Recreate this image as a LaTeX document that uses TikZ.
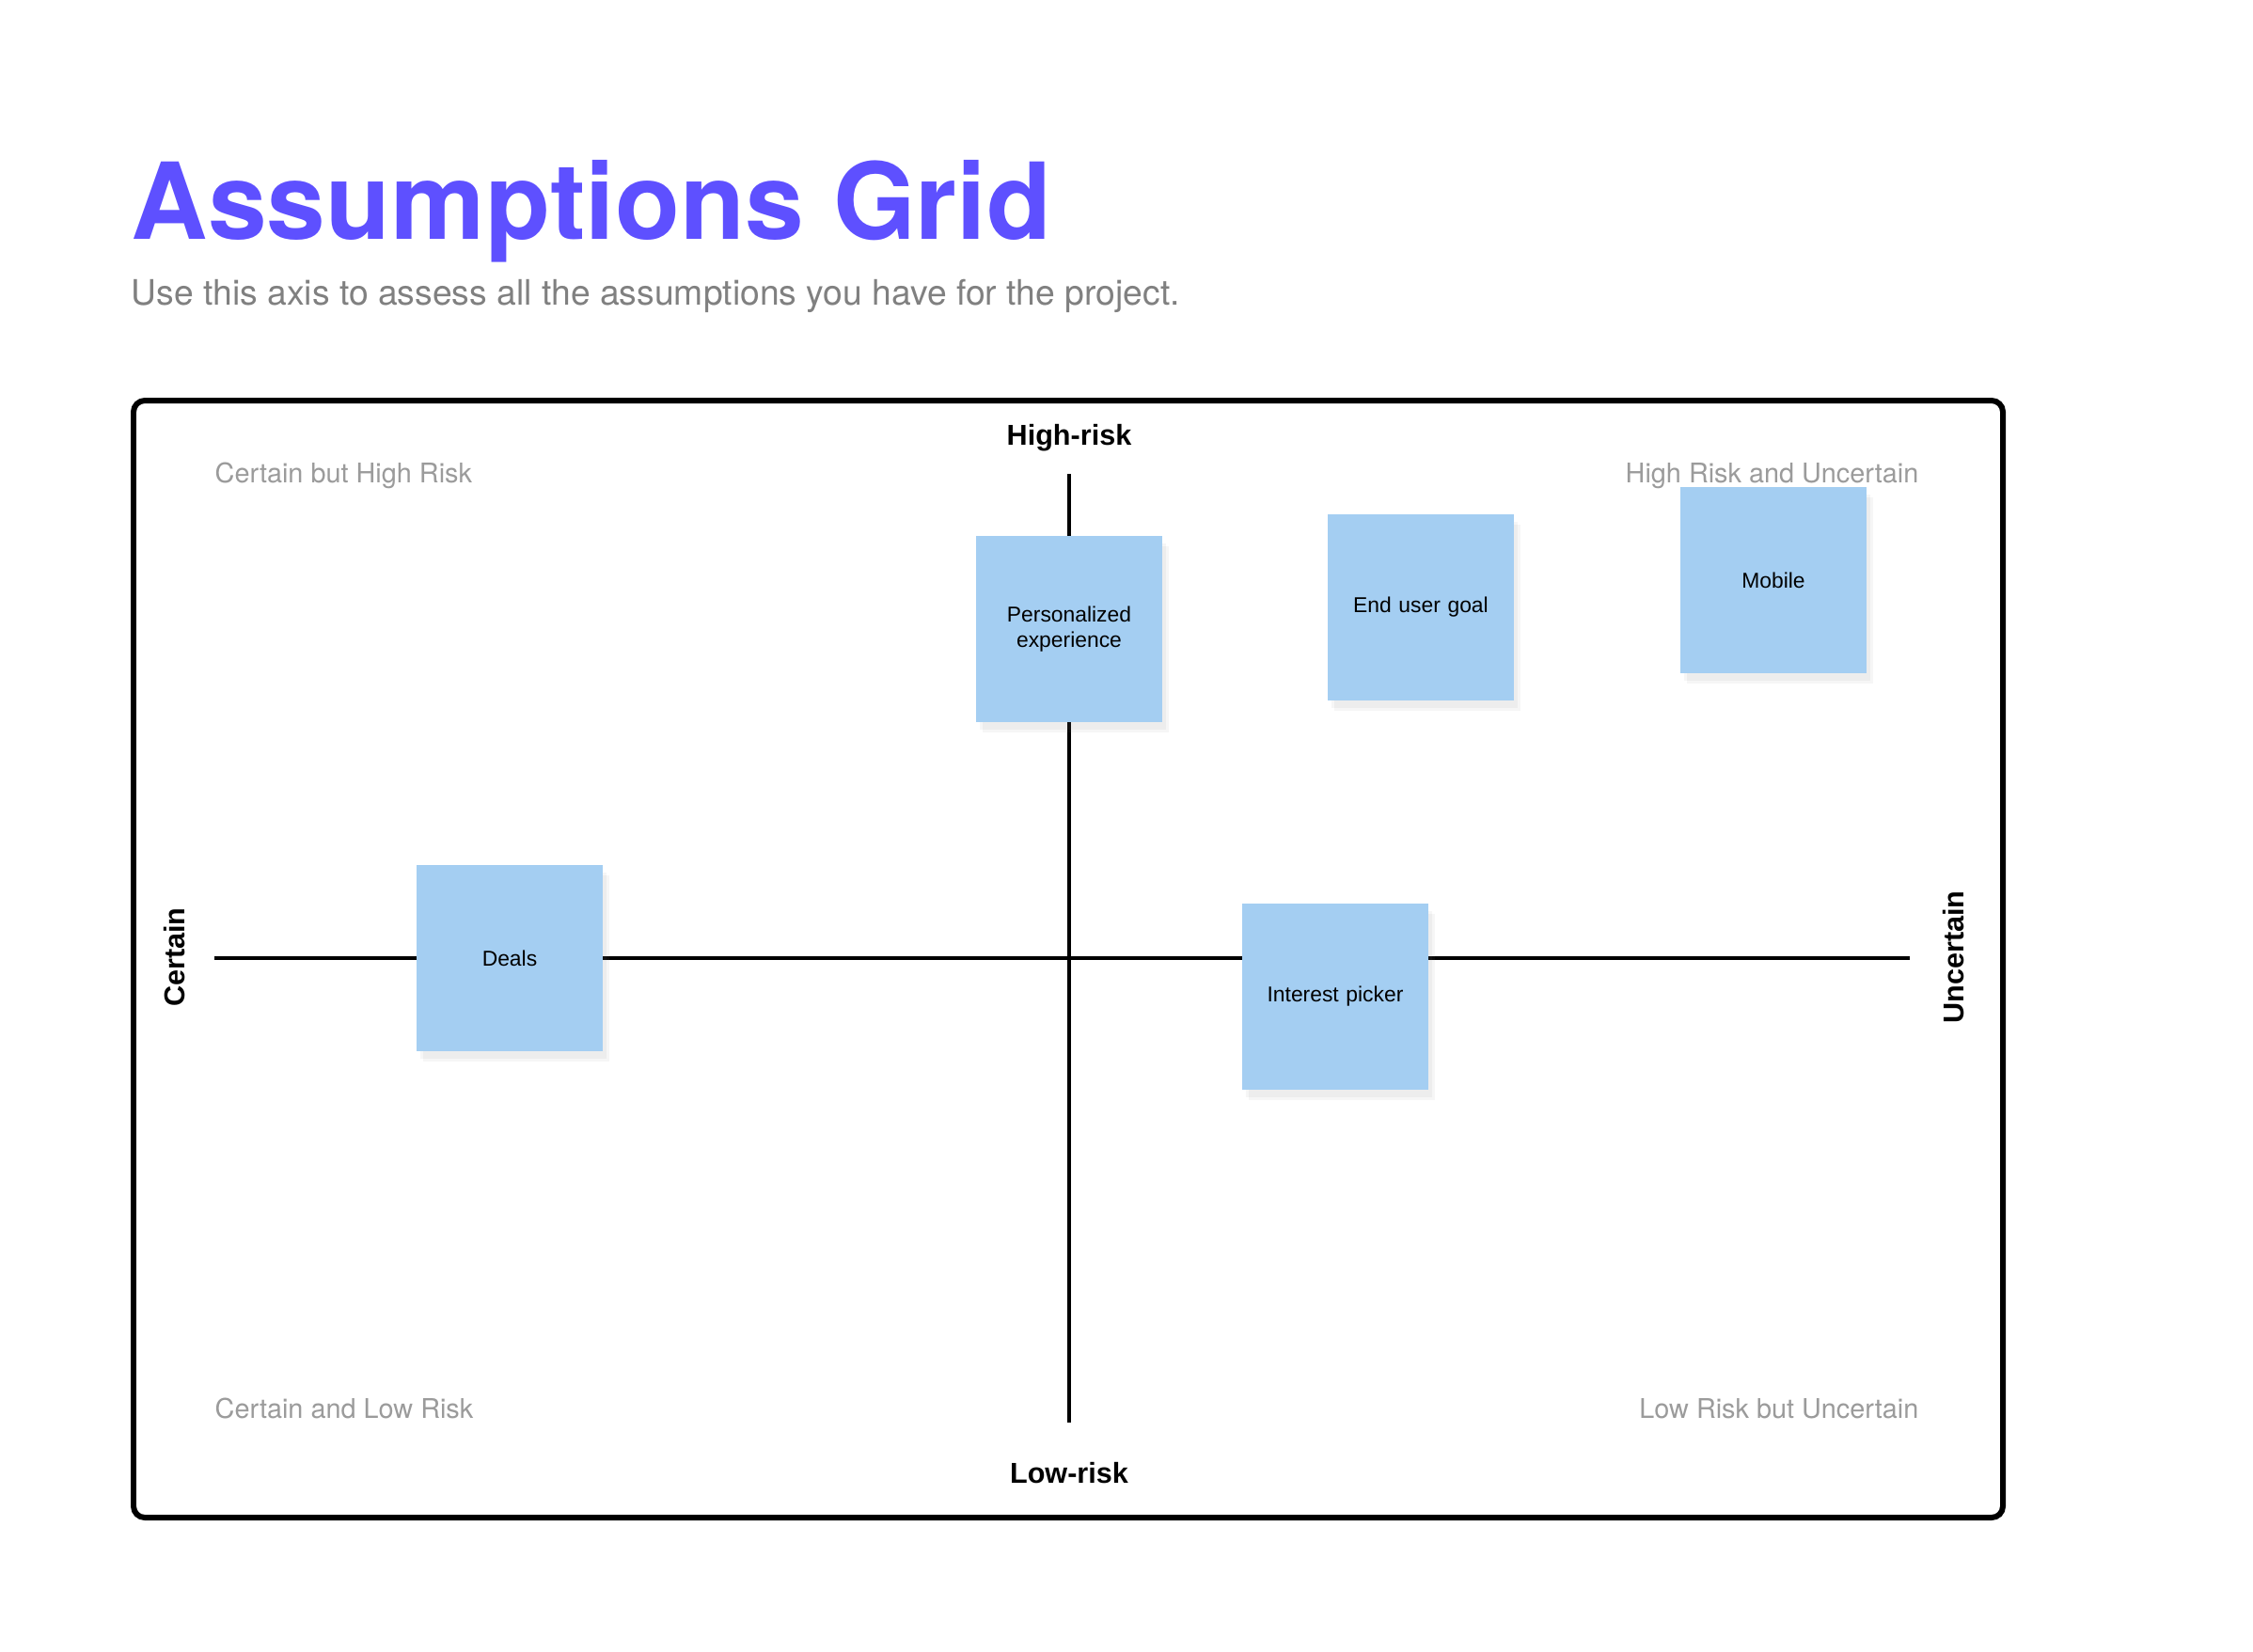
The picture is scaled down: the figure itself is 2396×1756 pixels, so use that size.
\documentclass[tikz,border=0pt]{standalone}
\usepackage{fontspec}
\setmainfont{TeX Gyre Heros}
\newfontfamily\robo{Liberation Sans}
\usetikzlibrary{shadows}
\definecolor{gridtitle}{RGB}{94,80,255}
\definecolor{subgray}{RGB}{128,128,128}
\definecolor{cornergray}{RGB}{155,155,155}
\definecolor{notefill}{RGB}{164,206,242}
\newcommand\sticky[3]{\node(#1)[note] at (#2) {#3};}

\begin{document}
\begin{tikzpicture}[x=0.01cm,y=-0.01cm,
    note/.style={fill=notefill,minimum size=1.98cm,inner sep=0pt,text width=1.6cm,align=center,
        font=\robo\fontsize{6.5}{7.9}\selectfont,
        drop shadow={opacity=0.07,shadow xshift=1.2pt,shadow yshift=-2.2pt},
        drop shadow={opacity=0.07,shadow xshift=2pt,shadow yshift=-3.2pt}},
    corner/.style={text=cornergray,inner sep=0pt,font=\fontsize{8.2}{10}\selectfont},
    axislabel/.style={inner sep=0pt,font=\robo\bfseries\fontsize{8.7}{10}\selectfont},
    axis/.style={line width=0.9pt}]
    \useasboundingbox[fill=white] (0,0) rectangle (2396,1756);
    \node(title)[anchor=base west,inner sep=0pt,text=gridtitle,font=\bfseries\fontsize{32.1}{38}\selectfont] at (139,254) {Assumptions Grid};
    \node(sub)[anchor=base west,inner sep=0pt,text=subgray,font=\fontsize{10.6}{12}\selectfont] at (139,324) {Use this axis to assess all the assumptions you have for the project.};
    \draw[line width=1.7pt,rounded corners=0.12cm] (142,426) rectangle (2130,1614);
    % axes
    \coordinate(ytop) at (1137,504);
    \coordinate(ybot) at (1137,1513);
    \coordinate(xl) at (228,1019);
    \coordinate(xr) at (2031,1019);
    \draw[axis] (ytop) -- (ybot);
    \draw[axis] (xl) -- (xr);
    \node(high)[axislabel] at (1137,466) {High-risk};
    \node(low)[axislabel] at (1137,1567) {Low-risk};
    \node(cert)[axislabel,rotate=90] at (186,1018) {Certain};
    \node(unc)[axislabel,rotate=90] at (2078,1018) {Uncertain};
    % quadrants
    \node(q1)[corner,anchor=west] at (228,506) {Certain but High Risk};
    \node(q2)[corner,anchor=east] at (2041,506) {High Risk and Uncertain};
    \node(q3)[corner,anchor=west] at (228,1498) {Certain and Low Risk};
    \node(q4)[corner,anchor=east] at (2041,1498) {Low Risk but Uncertain};
    % notes
    \sticky{pers}{1137,669}{Personalized experience}
    \sticky{goal}{1511,646}{End user goal}
    \sticky{mob}{1886,617}{Mobile}
    \sticky{deals}{542,1019}{Deals}
    \sticky{pick}{1420,1060}{Interest picker}
\end{tikzpicture}
\end{document}
